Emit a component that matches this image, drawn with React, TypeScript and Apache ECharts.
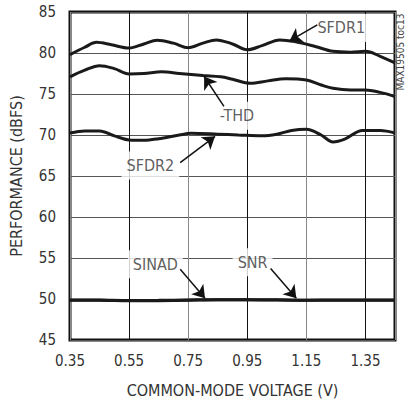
import React, { useEffect, useRef } from "react";
import * as echarts from "echarts";

const X0 = 0.35;
const xTickLabels = ["0.35", "0.55", "0.75", "0.95", "1.15", "1.35"];

const sfdr1V = [0.35, 0.4, 0.44, 0.49, 0.55, 0.6, 0.645, 0.7, 0.75, 0.8, 0.845, 0.9, 0.95, 1.0, 1.06, 1.11, 1.18, 1.24, 1.3, 1.35, 1.4, 1.45];
const sfdr1 = [79.8, 80.7, 81.3, 81.0, 80.6, 81.1, 81.55, 81.2, 80.65, 81.2, 81.6, 81.1, 80.4, 80.9, 81.6, 81.4, 80.8, 80.2, 80.1, 80.2, 79.6, 78.8];

const thdV = [0.35, 0.4, 0.45, 0.5, 0.55, 0.6, 0.66, 0.72, 0.8, 0.86, 0.9, 0.96, 1.02, 1.08, 1.15, 1.2, 1.24, 1.3, 1.35, 1.4, 1.45];
const thd = [77.1, 77.9, 78.45, 78.1, 77.45, 77.5, 77.7, 77.5, 77.25, 77.1, 76.8, 76.3, 76.6, 76.85, 76.7, 76.1, 75.7, 75.5, 75.5, 75.2, 74.7];

const sfdr2V = [0.35, 0.4, 0.45, 0.5, 0.55, 0.6, 0.65, 0.72, 0.76, 0.85, 0.92, 1.0, 1.05, 1.1, 1.15, 1.2, 1.24, 1.28, 1.34, 1.4, 1.45];
const sfdr2 = [70.25, 70.5, 70.5, 69.9, 69.4, 69.35, 69.55, 70.0, 70.2, 70.1, 70.0, 69.9, 70.1, 70.55, 70.7, 70.0, 69.15, 69.5, 70.55, 70.55, 70.25];

const sinadV = [0.35, 0.45, 0.55, 0.65, 0.75, 0.85, 0.95, 1.05, 1.15, 1.25, 1.35, 1.45];
const sinad = [49.85, 49.85, 49.78, 49.8, 49.85, 49.9, 49.9, 49.88, 49.85, 49.85, 49.85, 49.85];
const snr = [49.88, 49.87, 49.82, 49.84, 49.88, 49.92, 49.92, 49.9, 49.86, 49.87, 49.87, 49.87];

const labelNames = ["SFDR1", "-THD", "SFDR2", "SINAD", "SNR"];
const labelV = [1.268, 0.915, 0.622, 0.639, 0.968];
const labelY = [83.05, 72.36, 66.28, 54.24, 54.48];

const arrowTailV = [1.187, 0.871, 0.723, 0.723, 1.029];
const arrowTailY = [83.42, 73.49, 66.64, 53.63, 53.72];
const arrowTipV = [1.093, 0.804, 0.841, 0.807, 1.116];
const arrowTipY = [81.47, 77.13, 69.84, 50.1, 50.1];

const FONT = "'Liberation Sans Narrow', 'DejaVu Sans Condensed', sans-serif";

const pts = (xs: number[], ys: number[]) => xs.map((x, i) => [x - X0, ys[i]]);

const curve = (name: string, data: number[][]) => ({
  name,
  type: "line",
  data,
  smooth: 0.35,
  symbol: "none",
  lineStyle: { color: "#1a1a1a", width: 3 },
  z: 3,
});

export default function App() {
  const ref = useRef<HTMLDivElement>(null);
  useEffect(() => {
    if (!ref.current) return;
    const chart = echarts.init(ref.current, undefined, { renderer: "svg" });
    chart.setOption({
      animation: false,
      backgroundColor: "#fff",
      grid: {
        left: 67,
        top: 12,
        right: 11,
        bottom: 62,
        show: true,
        borderColor: "#111",
        borderWidth: 3,
      },
      xAxis: {
        type: "value",
        min: 0,
        max: 1.1,
        interval: 0.2,
        name: "COMMON-MODE VOLTAGE (V)",
        nameLocation: "middle",
        nameGap: 42,
        nameTextStyle: { fontFamily: FONT, fontSize: 16, color: "#333" },
        axisLine: { show: false },
        axisTick: { show: false },
        axisLabel: {
          margin: 13,
          fontFamily: FONT,
          fontSize: 15,
          color: "#333",
          formatter: (v: number) => {
            const i = Math.round(v / 0.2);
            return Math.abs(v - i * 0.2) < 1e-6 && i < xTickLabels.length ? xTickLabels[i] : "";
          },
        },
        splitLine: { show: true, lineStyle: { color: ["#888", "#111"], width: 1 } },
      },
      yAxis: {
        type: "value",
        min: 45,
        max: 85,
        interval: 5,
        name: "PERFORMANCE (dBFS)",
        nameLocation: "middle",
        nameGap: 46,
        nameTextStyle: { fontFamily: FONT, fontSize: 16, color: "#333" },
        axisLine: { show: false },
        axisTick: { show: false },
        axisLabel: { margin: 14, fontFamily: FONT, fontSize: 15, color: "#333" },
        splitLine: { show: true, lineStyle: { color: "#555", width: 1 } },
      },
      graphic: [
        {
          type: "text",
          x: 400,
          y: 52,
          rotation: Math.PI / 2,
          style: {
            text: "MAX19505 toc13",
            fontFamily: FONT,
            fontSize: 10,
            fill: "#444",
            align: "center",
            verticalAlign: "middle",
          },
        },
      ],
      series: [
        curve("SFDR1", pts(sfdr1V, sfdr1)),
        curve("-THD", pts(thdV, thd)),
        curve("SFDR2", pts(sfdr2V, sfdr2)),
        curve("SINAD", pts(sinadV, sinad)),
        curve("SNR", pts(sinadV, snr)),
        {
          name: "labels",
          type: "scatter",
          symbolSize: 1,
          itemStyle: { color: "rgba(0,0,0,0)" },
          z: 4,
          silent: true,
          data: labelNames.map((n, i) => ({ name: n, value: [labelV[i] - X0, labelY[i]] })),
          label: {
            show: true,
            position: "inside",
            formatter: (p: any) => p.name,
            fontFamily: FONT,
            fontSize: 16,
            color: "#333",
            backgroundColor: "#fff",
            padding: [6, 5],
          },
          markLine: {
            silent: true,
            symbol: ["none", "arrow"],
            symbolSize: 12,
            label: { show: false },
            lineStyle: { color: "#111", width: 1.5, type: "solid" },
            data: arrowTailV.map((v, i) => [
              { coord: [v - X0, arrowTailY[i]] },
              { coord: [arrowTipV[i] - X0, arrowTipY[i]] },
            ]),
          },
        },
      ],
    });
    return () => chart.dispose();
  }, []);
  return (
    <div
      ref={ref}
      style={{ position: "fixed", left: 0, top: 0, width: 406, height: 403, background: "#fff" }}
    />
  );
}
